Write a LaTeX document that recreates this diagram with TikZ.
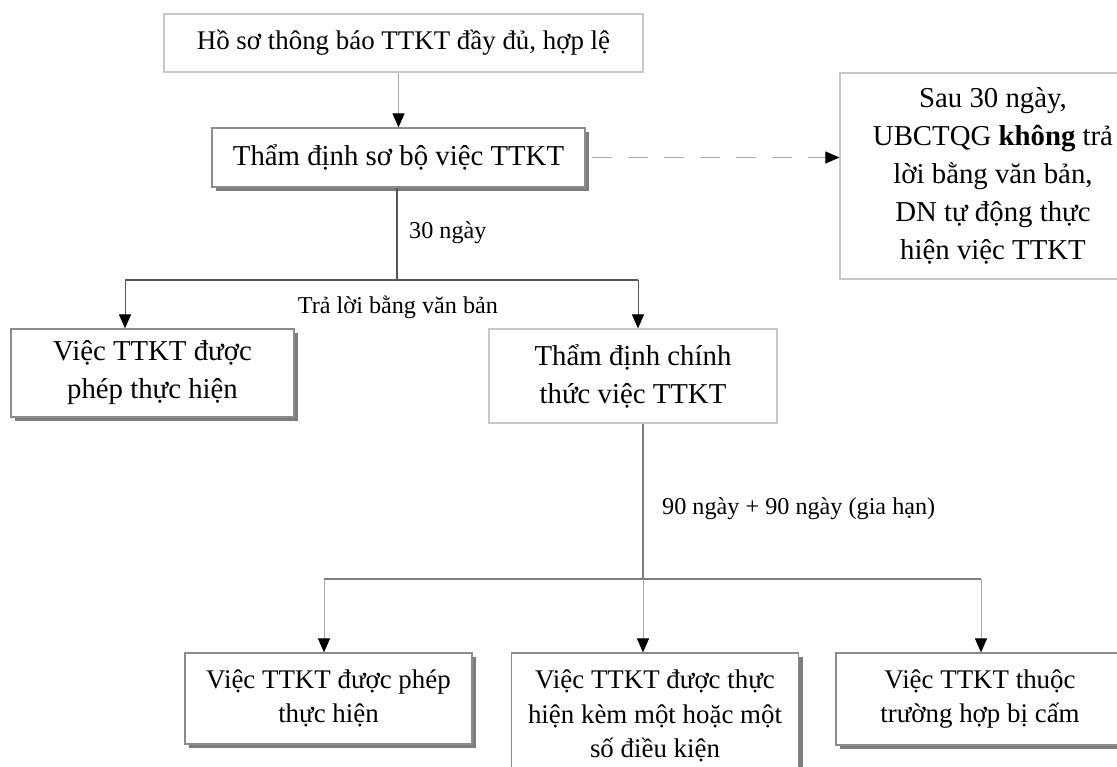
\documentclass[tikz,border=0pt]{standalone}
\usepackage{fontspec}
\setmainfont{Liberation Serif}
\usepackage{tikz}
\usetikzlibrary{arrows.meta,positioning,calc,shadows}
\definecolor{rimgray}{RGB}{200,200,200}
\definecolor{boxgray}{RGB}{140,140,140}
\definecolor{shadegray}{RGB}{125,125,125}
\definecolor{linkgray}{RGB}{85,85,85}
\definecolor{palegray}{RGB}{170,170,170}
\newcommand{\bigfont}{\fontsize{28.8}{38}\selectfont}
\newcommand{\midfont}{\fontsize{26.9}{34.5}\selectfont}
\newcommand{\notefont}{\fontsize{24.2}{29}\selectfont}
\tikzset{
  plainbox/.style={draw=rimgray, line width=1.2pt, fill=white, align=center,
                   inner sep=0pt, font=\bigfont},
  shadebox/.style={plainbox, draw=boxgray,
                   drop shadow={shadow xshift=4pt, shadow yshift=-4pt, opacity=1,
                                fill=shadegray}},
  lowbox/.style={shadebox, font=\midfont, minimum width=287pt, minimum height=91pt},
  arrow/.style={-{Triangle[length=14pt, width=12pt, color=black]}, line width=1pt},
  dasharrow/.style={arrow, draw=palegray, dash pattern=on 20pt off 16pt},
  link/.style={line width=1.2pt, draw=linkgray},
  note/.style={font=\notefont, inner sep=0pt},
}

\begin{document}
\begin{tikzpicture}[x=1pt, y=-1pt]
\useasboundingbox (0,0) rectangle (1117,767);

% ---------------- preliminary review ----------------
\node[plainbox, font=\midfont, minimum width=479pt, minimum height=58pt] (dossier)
  at (403.5,43) {Hồ sơ thông báo TTKT đầy đủ, hợp lệ};
\node[shadebox, minimum width=373pt, minimum height=59pt] (prelim)
  at (398.5,157.5) {Thẩm định sơ bộ việc TTKT};
\node[plainbox, minimum width=306pt, minimum height=206pt] (silent) at (993,176)
  {Sau 30 ngày,\\UBCTQG \textbf{không} trả\\lời bằng văn bản,\\DN tự động thực\\hiện việc TTKT};

\draw[arrow, draw=palegray] (prelim.north |- dossier.south) -- (prelim.north);
% no reply within the deadline
\draw[dasharrow] ([xshift=6pt]prelim.east) -- (prelim.east -| silent.west);

% ---------------- written reply ----------------
\coordinate (fork1) at (397,280);
\coordinate (fork1w) at (125,280);
\coordinate (fork1e) at (638,280);
\node[shadebox, minimum width=283pt, minimum height=88pt] (allowed) at (152.5,373)
  {Việc TTKT được\\phép thực hiện};
\node[plainbox, minimum width=288pt, minimum height=94pt] (formal) at (633,376)
  {Thẩm định chính\\thức việc TTKT};

\draw[link] (prelim.south -| fork1) -- (fork1);
\draw[link] (fork1w) -- (fork1e);
\draw[arrow, draw=linkgray] (fork1w) -- (fork1w |- allowed.north);
\draw[arrow, draw=linkgray] (fork1e) -- (fork1e |- formal.north);
\node[note, anchor=west] (days30) at (409,233) {30 ngày};
\node[note] (reply) at (398,307) {Trả lời bằng văn bản};

% ---------------- formal review ----------------
\coordinate (fork2) at (643,579);
\coordinate (fork2w) at (324,579);
\coordinate (fork2e) at (981,579);
\node[lowbox] (granted) at (328.5,698.5) {Việc TTKT được phép\\thực hiện};
\node[lowbox, minimum height=126pt] (conditional) at (655,716)
  {Việc TTKT được thực\\hiện kèm một hoặc một\\số điều kiện};
\node[lowbox, minimum width=288pt, minimum height=92pt] (banned) at (980,699)
  {Việc TTKT thuộc\\trường hợp bị cấm};

\draw[link, draw=shadegray] (formal.south -| fork2) -- (fork2);
\draw[link, draw=shadegray] (fork2w) -- (fork2e);
\foreach \c/\b in {fork2w/granted, fork2/conditional, fork2e/banned}
  \draw[arrow, draw=palegray] (\c) -- (\c |- \b.north);
\node[note, anchor=west] (days90) at (662,509) {90 ngày + 90 ngày (gia hạn)};
\end{tikzpicture}
\end{document}
